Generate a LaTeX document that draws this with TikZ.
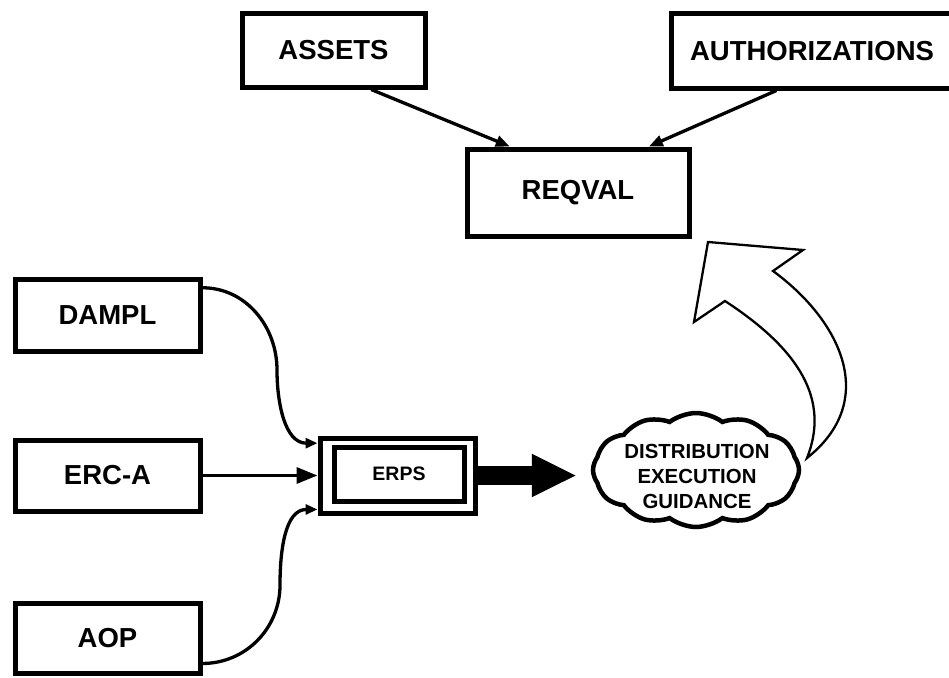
\documentclass[tikz,border=0pt]{standalone}
\usepackage{fontspec}
\setmainfont{Liberation Sans}
\usetikzlibrary{arrows.meta,shapes.symbols,calc}
\begin{document}
\begin{tikzpicture}[x=1pt,y=-1pt,
  box/.style={draw, line width=5pt, inner sep=0pt, font=\bfseries\fontsize{27.5}{30}\selectfont},
  conn/.style={line width=3.3pt, -{Triangle[length=14pt,width=11pt]}},
  sconn/.style={line width=3.3pt, -{Triangle[length=12pt,width=10pt]}},
  bconn/.style={line width=3.3pt, -{Triangle[length=21pt,width=16pt]}}]
\useasboundingbox (0,0) rectangle (949,677);
\fill[white] (0,0) rectangle (949,677);

\node[box, minimum width=183pt, minimum height=73pt] (assets) at (333.5,50.5) {ASSETS};
\node[box, minimum width=282pt, minimum height=74pt] (auth) at (812,51) {AUTHORIZATIONS};
\node[box, minimum width=222pt, minimum height=87pt] (reqval) at (578,192.5) {REQVAL};

\node[box, minimum width=185pt, minimum height=72pt] (dampl) at (107.5,315) {DAMPL};
\node[box, minimum width=185pt, minimum height=71pt] (erca) at (107.5,475.5) {ERC-A};
\node[box, minimum width=185pt, minimum height=70pt] (aop) at (107.5,638) {AOP};

\node[draw, line width=5pt, minimum width=155pt, minimum height=75pt, inner sep=0pt] (erps) at (397.5,475.5) {};
\node[draw, line width=5pt, minimum width=130pt, minimum height=54pt, inner sep=0pt,
      font=\bfseries\fontsize{19.5}{22}\selectfont] (erpsin) at (399,474) {ERPS};

\node[cloud, draw, line width=4.5pt, cloud puffs=12, cloud puff arc=75, cloud ignores aspect,
      minimum width=206pt, minimum height=114pt, inner sep=0pt] (cloud) at (696,470) {};
\node[align=center, inner sep=0pt, font=\bfseries\fontsize{20.4}{25}\selectfont] (cloudtxt) at (697,476)
  {DISTRIBUTION\\EXECUTION\\GUIDANCE};

% top connectors
\draw[conn] (assets.-46) -- (reqval.146);
\draw[conn] (auth.228) -- (reqval.33);

% inputs to ERPS
\coordinate (dmid) at (277,370);
\coordinate (amid) at (280,585);
\draw[sconn] (dampl.16) to[out=0,in=90] (dmid) to[out=-90,in=180] (erps.158);
\draw[bconn] (erca.east) -- (erps.west);
\draw[sconn] (aop.-15) to[out=0,in=-90] (amid) to[out=90,in=180] (erps.203);

% thick arrow
\draw[line width=19pt, -{Triangle[length=45pt,width=40pt]}] (erps.east) -- ([xshift=-14pt]erps.east -| cloud.west);

% hollow curved arrow
\draw[line width=2.3pt, line join=miter, fill=white]
  (708,242) -- (803,250) -- (773,271)
  .. controls (840,320) and (880,400) .. (807,458)
  .. controls (830,400) and (800,350) .. (725,301)
  -- (694,322) -- cycle;
\end{tikzpicture}
\end{document}
